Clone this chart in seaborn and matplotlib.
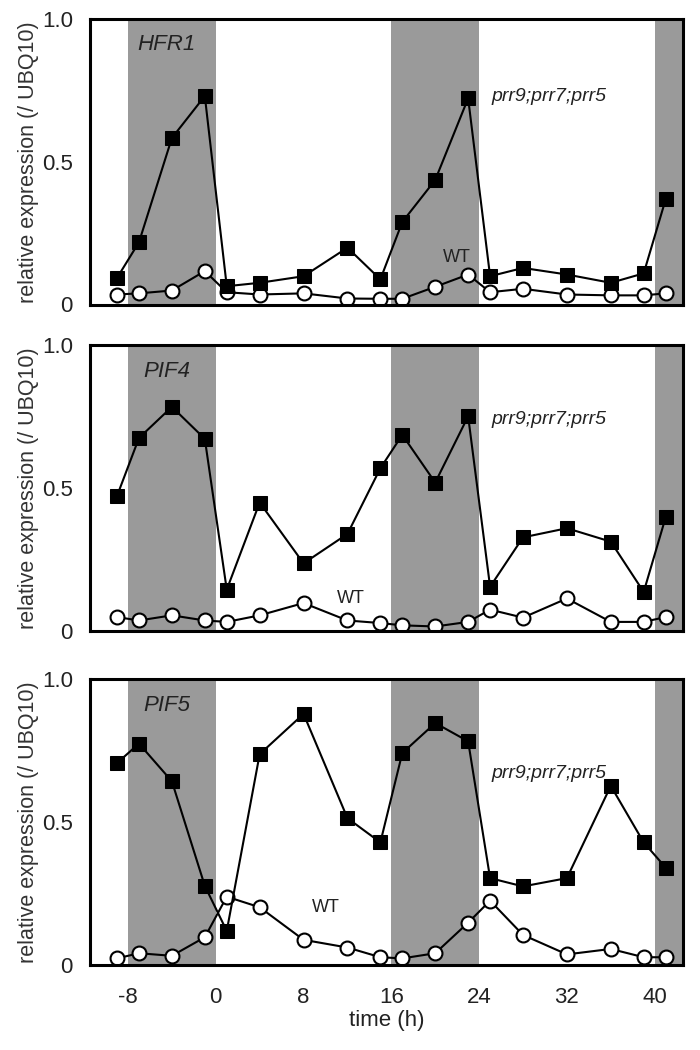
import matplotlib
matplotlib.use("Agg")
import matplotlib.pyplot as plt
import seaborn as sns
import pandas as pd

# sampling times (h)
time_h = [-9, -7, -4, -1, 1, 4, 8, 12, 15, 17, 20, 23, 25, 28, 32, 36, 39, 41]

genes = ["HFR1", "PIF4", "PIF5"]

hfr1_mut = [0.093, 0.218, 0.583, 0.730, 0.064, 0.076, 0.099, 0.199, 0.088,
            0.289, 0.436, 0.722, 0.099, 0.128, 0.105, 0.076, 0.109, 0.368]
hfr1_wt = [0.035, 0.039, 0.049, 0.117, 0.043, 0.035, 0.039, 0.021, 0.020,
           0.020, 0.062, 0.105, 0.043, 0.055, 0.035, 0.032, 0.032, 0.039]

pif4_mut = [0.473, 0.676, 0.785, 0.673, 0.145, 0.450, 0.237, 0.340, 0.570,
            0.687, 0.520, 0.752, 0.155, 0.328, 0.360, 0.313, 0.137, 0.398]
pif4_wt = [0.049, 0.037, 0.055, 0.037, 0.032, 0.055, 0.098, 0.037, 0.028,
           0.020, 0.016, 0.032, 0.075, 0.047, 0.114, 0.032, 0.032, 0.049]

pif5_mut = [0.707, 0.775, 0.643, 0.277, 0.119, 0.738, 0.879, 0.514, 0.429,
            0.742, 0.847, 0.783, 0.304, 0.275, 0.304, 0.627, 0.429, 0.341]
pif5_wt = [0.023, 0.041, 0.032, 0.097, 0.239, 0.202, 0.088, 0.061, 0.027,
           0.023, 0.041, 0.148, 0.225, 0.105, 0.037, 0.056, 0.027, 0.027]

dark_periods = [(-8, 0), (16, 24), (40, 48)]

mut_series = [hfr1_mut, pif4_mut, pif5_mut]
wt_series = [hfr1_wt, pif4_wt, pif5_wt]

# label positions (data coords)
wt_label_pos = [(22, 0.165), (12.3, 0.115), (10, 0.2)]
mut_label_y = [0.73, 0.74, 0.67]

sns.set_style("white")
plt.rcParams["font.family"] = ["Liberation Sans", "DejaVu Sans"]

fig = plt.figure(figsize=(7, 10.5), dpi=100)
bottoms = [0.710, 0.399, 0.081]
axes = [fig.add_axes([0.128, b, 0.848, 0.272]) for b in bottoms]

for i, ax in enumerate(axes):
    for start, end in dark_periods:
        ax.axvspan(start, end, color="#9a9a9a", lw=0, zorder=0)

    df = pd.DataFrame({"time": time_h, "wt": wt_series[i], "mut": mut_series[i]})

    sns.lineplot(data=df, x="time", y="wt", ax=ax, color="black", lw=1.5,
                 marker="o", markersize=10, markerfacecolor="white",
                 markeredgecolor="black", markeredgewidth=1.5, zorder=3)
    sns.lineplot(data=df, x="time", y="mut", ax=ax, color="black", lw=1.5,
                 marker="s", markersize=10.5, markerfacecolor="black",
                 markeredgecolor="black", zorder=4)

    ax.set_xlim(-11.5, 42.6)
    ax.set_ylim(0, 1.0)
    ax.set_yticks([0, 0.25, 0.5, 0.75, 1.0])
    ax.set_yticklabels(["0", "", "0.5", "", "1.0"])
    ax.set_xticks(range(-8, 41, 4))
    if i == 2:
        ax.set_xticklabels([str(t) if t % 8 == 0 else "" for t in range(-8, 41, 4)])
        ax.set_xlabel("time (h)", fontsize=16, color="#222222", labelpad=1)
    else:
        ax.set_xticklabels([])
        ax.set_xlabel("")
    ax.set_ylabel("relative expression (/ UBQ10)", fontsize=15.5,
                  color="#333333", labelpad=2)

    ax.tick_params(direction="in", length=7, width=1.2, colors="black",
                   labelsize=16, labelcolor="#222222")
    ax.tick_params(axis="x", pad=16)
    ax.tick_params(axis="y", pad=12)
    for side in ["top", "bottom", "left", "right"]:
        ax.spines[side].set_visible(True)
        ax.spines[side].set_linewidth(2.2)
        ax.spines[side].set_color("black")
        ax.spines[side].set_zorder(5)

    ax.text(-4.5, 0.91, genes[i], style="italic", fontsize=16,
            color="#222222", ha="center", va="center")
    ax.text(25.1, mut_label_y[i], "prr9;prr7;prr5", style="italic",
            fontsize=14, color="#222222", ha="left", va="center")
    wx, wy = wt_label_pos[i]
    ax.text(wx, wy, "WT", fontsize=13, color="#222222",
            ha="center", va="center")

fig.savefig("out.png", dpi=100)
